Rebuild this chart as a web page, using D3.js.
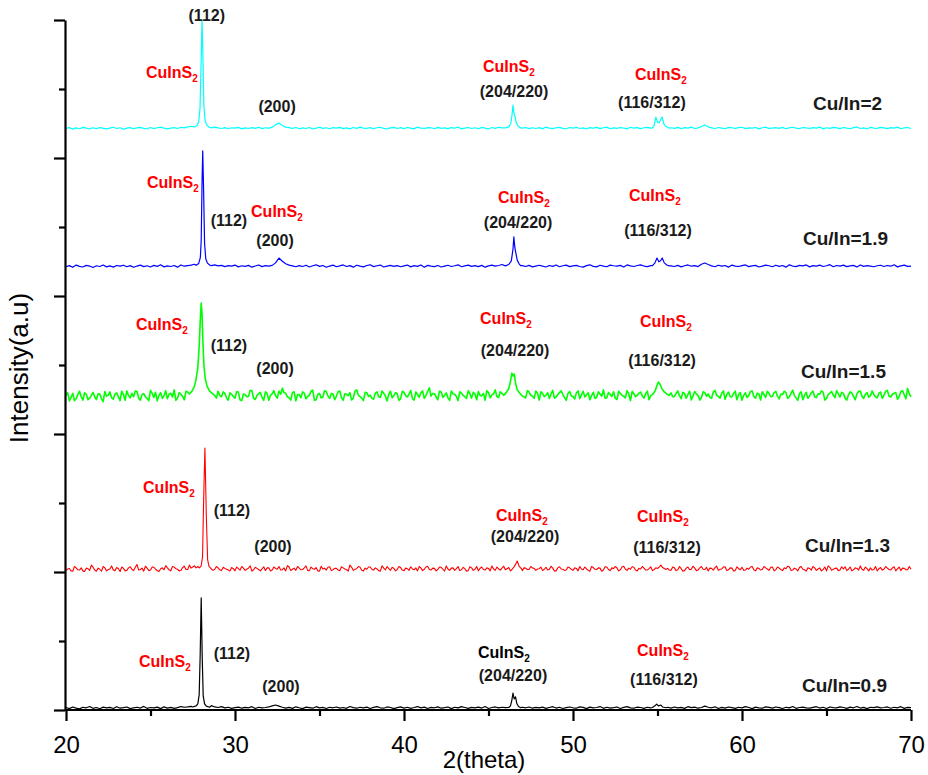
<!DOCTYPE html>
<html><head><meta charset="utf-8">
<script src="https://cdn.jsdelivr.net/npm/d3@7"></script>
<style>body{margin:0;background:#fff}svg{display:block}</style>
</head><body><svg id="c" width="928" height="775"></svg>
<script>
// ---------------- DATA ----------------
const samples = ["Cu/In=0.9", "Cu/In=1.3", "Cu/In=1.5", "Cu/In=1.9", "Cu/In=2"];
const offsets = [0, 1000, 2250, 3200, 4200];           // vertical stacking offsets (a.u.)
const seriesColors = ["#000000", "#ff0000", "#00ff00", "#0000ff", "#00ffff"];
const gridStart = 20, gridStep = 0.2;                  // 2θ sampling of the baseline arrays
const xTicks = [20, 30, 40, 50, 60, 70];
const xMinor = [25, 35, 45, 55, 65];
const yTicks = [0, 1000, 2000, 3000, 4000, 5000];
const yMinor = [500, 1500, 2500, 3500, 4500];

// baseline intensities, 2θ = 20.0, 20.2, ... 70.0 (values inside peak windows are replaced by peak data)
const base09 = [
 18,10,22,14,8,20,16,25,12,18, 9,21,15,19,11,24,13,17,22,10, 16,20,14,26,12,18,15,21,10,23,
 14,19,12,17,25,20,22,26,30,38, 40,40,40,32,22,18,24,15,20,12, 17,21,13,19,16,24,11,20,15,18,
 22,30,36,28,20,14,19,12,23,16, 10,21,17,13,24,15,19,11,20,16, 22,14,18,12,25,17,13,20,15,21,
 11,19,24,16,13,22,18,10,17,23, 14,20,12,18,25,15,21,11,19,16, 23,13,17,22,10,20,15,24,18,12,
 19,16,21,14,25,11,18,22,15,20, 17,24,30,40,30,20,16,22,13,19, 15,21,12,18,24,14,20,11,17,22,
 16,13,23,19,10,21,15,18,25,12, 20,14,17,22,11,19,24,15,13,21, 18,12,20,16,30,40,38,30,20,14,
 22,15,19,12,24,17,21,13,18,28, 20,16,23,11,19,14,22,17,12,20, 15,24,18,10,21,16,13,23,19,14,
 22,17,11,20,15,25,12,18,21,16, 13,19,24,14,20,11,22,17,15,23, 18,12,21,16,25,14,19,10,20,17,
 23,15,18,22,13,20,16,24,12,19, 17];
const base13 = [
 10,25,5,30,14,8,28,12,35,6, 20,40,8,22,15,32,4,26,12,38, 10,55,18,6,28,14,34,9,24,16,
 30,8,36,20,12,42,18,28,45,40, 0,0,0,0,20,30,10,26,14,32, 8,24,40,12,28,6,34,18,22,10,
 30,14,26,40,16,8,36,20,12,28, 18,44,10,24,32,6,22,14,38,16, 26,9,30,18,50,12,24,34,8,20,
 36,14,22,6,28,40,12,26,18,32, 10,24,38,16,8,30,20,42,14,26, 18,34,6,22,28,12,40,16,24,10,
 30,20,8,36,14,26,44,12,22,28, 16,32,20,36,24,10,28,18,30,12, 24,10,34,18,28,8,38,20,14,30,
 12,26,40,16,22,6,32,18,28,14, 36,10,24,30,16,42,12,20,34,8, 22,28,14,38,18,0,0,0,26,12,
 30,16,24,10,36,20,28,14,40,18, 8,26,32,12,22,38,16,28,10,24, 34,14,20,40,8,26,18,30,12,36,
 16,28,10,24,38,14,22,32,20,6, 26,40,12,30,18,8,34,20,28,14, 22,10,36,16,26,44,12,24,30,18,
 8,32,20,28,14,38,22,10,26,16, 20];
// extra samples at 2θ = 20.1, 20.3, ... 69.9 for the noisier scans
const mid13 = [
 22,8,40,16,30,4,24,50,14,28, 6,30,18,44,10,24,36,8,30,20, 34,14,28,42,10,36,20,4,30,46,
 16,40,24,8,32,18,50,36,30,0, 0,0,0,12,40,16,34,20,8,24, 36,14,28,20,44,16,26,8,38,30,
 8,36,20,14,30,46,10,28,40,16, 30,12,36,20,8,42,28,34,10,26, 14,38,22,6,34,20,40,12,28,36,
 20,30,10,44,16,24,34,8,40,14, 28,12,22,30,40,10,36,18,28,8, 36,20,44,12,30,24,10,34,6,38,
 12,40,26,18,30,8,22,36,14,42, 24,8,0,0,0,30,18,40,26,22, 36,20,14,42,8,30,22,12,36,20,
 30,8,22,36,12,40,20,30,6,38, 18,30,40,8,36,20,28,38,14,26, 40,14,24,10,30,0,0,0,14,36,
 10,40,6,28,16,42,10,30,20,34, 28,14,42,20,36,10,30,8,38,16, 12,28,36,16,30,14,40,22,34,8,
 36,18,30,42,12,28,8,40,16,30, 14,30,22,8,36,44,12,26,10,38, 38,20,8,30,14,20,36,8,14,40,
 24,14,40,18,30,8,36,28,16,40];
const base15 = [
 30,-10,45,5,60,-5,38,10,52,0, 40,-15,25,55,2,48,-8,35,62,12, 20,58,-5,42,8,66,15,-10,50,28,
 5,45,70,10,38,-2,55,30,72,90, 0,0,0,0,0,60,20,45,-5,38, 10,52,-8,35,22,64,0,42,15,56,
 -5,40,28,60,82,45,12,50,-10,36, 55,5,30,68,-2,44,18,58,8,40, 25,62,-6,38,50,10,70,20,-8,48,
 32,2,56,15,45,-10,60,28,40,6, 52,18,66,-4,36,48,8,58,24,42, -2,54,30,12,62,38,-8,46,20,64,
 10,40,58,26,-5,50,34,70,14,45, 0,0,0,0,0,48,12,55,25,62, -4,44,30,8,66,18,50,36,-6,58,
 22,48,6,60,34,-2,52,16,40,70, 12,38,56,0,46,24,64,-8,42,30, 54,10,60,28,0,0,0,0,0,48,
 20,62,6,44,36,-4,58,30,14,50, 40,8,66,24,46,2,54,18,60,34, -6,48,28,62,10,40,56,16,44,22,
 58,4,36,50,20,68,12,42,-2,52, 26,60,14,38,54,6,46,30,64,18, 44,-4,56,22,40,62,8,50,28,36,
 12,54,32,66,18,46,2,58,34,80, 20];
const mid15 = [
 50,15,-8,35,20,48,-2,30,18,42, 5,58,30,12,40,20,60,-5,28,45, 62,10,36,20,-8,44,52,30,8,64,
 40,18,-6,50,22,60,8,40,0,0, 0,0,0,0,10,28,55,12,48,22, 58,-4,40,20,66,8,30,52,-6,44,
 30,64,10,38,50,20,-4,56,34,12, 46,22,60,-6,36,12,64,26,44,-2, 56,14,42,28,-4,60,30,10,52,22,
 8,46,20,62,26,38,12,50,-6,58, 28,40,6,54,16,62,30,85,44,20, 60,16,48,-6,40,22,56,30,8,42,
 52,-2,30,44,64,12,40,20,56,30, 0,0,0,0,0,20,64,30,8,46, 56,20,50,40,10,36,62,14,44,26,
 4,62,34,18,48,28,8,56,24,10, 50,22,8,60,30,12,40,58,20,46, 26,44,-2,50,0,0,0,0,0,20,
 44,28,52,10,60,24,40,-4,56,24, 16,54,30,10,62,36,20,44,-2,50, 30,14,58,22,46,-4,36,60,20,50,
 24,40,60,8,44,28,-6,56,30,8, 50,20,42,62,-4,36,58,14,40,52, 10,34,46,-2,60,24,38,16,62,20,
 46,8,60,24,38,50,20,64,6,40];
const base19 = [
 12,20,8,24,15,10,22,17,6,19, 14,25,11,18,9,21,16,23,12,20, 8,17,24,13,19,10,22,15,26,11,
 18,14,21,9,25,16,20,24,30,0, 0,0,0,0,26,18,22,13,20,16, 24,11,19,15,22,9,17,25,13,20,
 16,22,40,75,52,34,24,18,12,20, 14,23,10,19,26,15,21,8,17,24, 12,18,25,14,20,9,23,16,11,21,
 26,13,19,24,10,17,22,15,20,12, 18,24,11,20,15,25,9,22,16,13, 21,10,17,23,14,19,26,12,18,24,
 15,20,13,22,9,18,24,16,21,28, 0,0,0,0,0,20,14,22,11,17, 23,16,10,21,15,25,12,19,24,13,
 18,22,14,9,20,26,15,11,23,17, 12,24,19,16,22,10,25,18,14,21, 26,17,13,20,0,0,0,0,0,18,
 14,22,11,19,25,16,20,13,30,39, 28,18,12,23,16,21,9,24,17,14, 20,25,13,18,22,10,16,24,19,12,
 23,15,21,9,26,17,13,22,18,25, 11,20,16,24,14,19,27,12,21,16, 24,13,18,22,10,25,15,20,17,12,
 19,23,14,21,16,26,11,18,24,15, 17];
const base20 = [
 14,20,9,18,12,22,16,10,19,13, 21,15,11,17,23,14,19,8,16,20, 12,18,22,15,10,21,13,19,24,16,
 11,17,20,14,23,18,25,30,0,0, 0,0,0,0,24,18,14,20,12,19, 16,22,11,18,14,20,15,23,13,19,
 17,22,42,54,36,24,20,15,21,12, 18,14,21,10,17,23,15,19,12,20, 16,22,13,18,11,21,15,24,17,14,
 20,12,19,23,15,10,18,22,14,20, 13,21,16,11,24,17,14,20,19,12, 22,15,18,13,20,16,25,11,17,21,
 14,19,12,22,17,10,21,15,23,18, 0,0,0,0,0,16,21,13,19,14, 20,11,24,16,13,19,22,15,12,21,
 17,23,14,18,10,20,16,22,13,19, 24,12,18,15,21,17,11,23,16,20, 13,19,22,16,0,0,0,0,0,19,
 15,22,12,20,17,24,14,18,28,39, 26,18,14,21,16,12,22,19,15,20, 23,13,18,16,21,11,19,24,14,17,
 20,15,22,12,18,23,16,13,21,18, 14,20,17,24,11,19,15,22,18,13, 21,16,12,20,25,14,18,10,23,17,
 15,22,18,13,20,16,24,12,19,21, 14];

// reflection profiles [2θ, intensity] — (112), (204/220), (116/312)
const peaks09 = [
 [[27.5,22],[27.7,30],[27.8,45],[27.88,110],[27.94,400],[28.0,812],[28.06,380],[28.12,100],[28.2,45],[28.3,28],[28.5,20]],
 [[46.2,18],[46.3,30],[46.38,70],[46.45,123],[46.52,80],[46.6,95],[46.68,45],[46.78,25],[46.9,17]],
 [[54.7,18],[54.85,30],[54.95,43],[55.05,30],[55.2,36],[55.3,22],[55.5,16]]];
const peaks13 = [
 [[27.9,30],[28.0,45],[28.08,110],[28.14,500],[28.22,899],[28.3,420],[28.38,90],[28.46,40],[28.6,22]],
 [[46.4,20],[46.5,35],[46.6,55],[46.7,80],[46.8,45],[46.95,22]],
 [[55.0,25],[55.1,35],[55.2,51],[55.3,32],[55.5,18]]];
const peaks15 = [
 [[27.3,40],[27.45,60],[27.6,95],[27.7,150],[27.8,230],[27.88,380],[27.94,560],[28.0,699],[28.05,620],[28.1,420],[28.16,250],[28.24,150],[28.35,95],[28.5,60],[28.65,45],[28.8,30]],
 [[45.9,30],[46.05,50],[46.2,80],[46.3,130],[46.38,192],[46.45,170],[46.52,185],[46.6,120],[46.7,70],[46.85,45],[47.0,25]],
 [[54.7,35],[54.85,60],[54.95,95],[55.05,127],[55.15,110],[55.25,80],[55.4,55],[55.55,40],[55.7,30]]];
const peaks19 = [
 [[27.7,22],[27.85,35],[27.95,80],[28.0,200],[28.05,620],[28.09,851],[28.14,580],[28.2,180],[28.27,70],[28.37,38],[28.5,25],[28.6,20]],
 [[46.0,18],[46.2,28],[46.35,55],[46.45,140],[46.5,228],[46.56,150],[46.62,110],[46.7,60],[46.8,35],[46.9,20]],
 [[54.7,20],[54.85,40],[54.97,75],[55.08,48],[55.18,55],[55.28,75],[55.4,40],[55.55,25],[55.7,18]]];
const peaks20 = [
 [[27.6,25],[27.75,35],[27.85,60],[27.93,160],[28.0,520],[28.05,800],[28.1,540],[28.16,170],[28.24,65],[28.34,38],[28.45,25],[28.6,18]],
 [[46.0,18],[46.2,25],[46.32,50],[46.4,120],[46.45,184],[46.5,130],[46.58,95],[46.65,55],[46.75,32],[46.9,18]],
 [[54.7,18],[54.8,35],[54.9,97],[55.0,60],[55.1,55],[55.2,80],[55.27,97],[55.38,45],[55.5,28],[55.7,16]]];

const baselines = [base09, base13, base15, base19, base20];
const midlines = [null, mid13, mid15, null, null];
const peakSets = [peaks09, peaks13, peaks15, peaks19, peaks20];
const lineWidths = [1.2, 1.1, 1.6, 1.2, 1.2];

// annotations: [text, 2θ, intensity, kind]
const labels = [
 ["CuInS", 24.73, 4580, "phase"], ["(112)", 28.33, 4993, "hkl"], ["(200)", 32.49, 4333, "hkl"],
 ["CuInS", 44.67, 4623, "phase"], ["(204/220)", 46.51, 4442, "hkl"],
 ["CuInS", 53.67, 4565, "phase"], ["(116/312)", 54.67, 4362, "hkl"], ["Cu/In=2", 64.20, 4348, "sample"],

 ["CuInS", 24.79, 3783, "phase"], ["(112)", 29.64, 3507, "hkl"], ["CuInS", 30.95, 3572, "phase"], ["(200)", 32.37, 3362, "hkl"],
 ["CuInS", 45.56, 3674, "phase"], ["(204/220)", 46.75, 3493, "hkl"],
 ["CuInS", 53.31, 3688, "phase"], ["(116/312)", 55.03, 3435, "hkl"], ["Cu/In=1.9", 63.61, 3370, "sample"],

 ["CuInS", 24.14, 2754, "phase"], ["(112)", 29.64, 2601, "hkl"], ["(200)", 32.37, 2435, "hkl"],
 ["CuInS", 44.50, 2797, "phase"], ["(204/220)", 46.57, 2565, "hkl"],
 ["CuInS", 53.96, 2775, "phase"], ["(116/312)", 55.27, 2493, "hkl"], ["Cu/In=1.5", 63.49, 2406, "sample"],

 ["CuInS", 24.56, 1572, "phase"], ["(112)", 29.82, 1406, "hkl"], ["(200)", 32.25, 1145, "hkl"],
 ["CuInS", 45.44, 1370, "phase"], ["(204/220)", 47.16, 1217, "hkl"],
 ["CuInS", 53.79, 1362, "phase"], ["(116/312)", 55.56, 1138, "hkl"], ["Cu/In=1.3", 63.73, 1145, "sample"],

 ["CuInS", 24.32, 312, "phase"], ["(112)", 29.82, 370, "hkl"], ["(200)", 32.72, 130, "hkl"],
 ["CuInS", 44.38, 377, "phaseBlack"], ["(204/220)", 46.45, 210, "hkl"],
 ["CuInS", 53.79, 391, "phase"], ["(116/312)", 55.38, 181, "hkl"], ["Cu/In=0.9", 63.55, 130, "sample"]
];

// ---------------- DRAW ----------------
const svg = d3.select("#c");
const FONT = "'Liberation Sans', Arial, Helvetica, sans-serif";
const x = d3.scaleLinear().domain([20, 70]).range([66, 911]);
const y = d3.scaleLinear().domain([0, 5000]).range([710, 20]);

// series
const line = d3.line().x(d => x(d[0])).y(d => y(d[1]));
baselines.forEach((base, i) => {
  const windows = peakSets[i].map(p => [p[0][0], p[p.length - 1][0]]);
  const inside = t => windows.some(w => t >= w[0] - 1e-9 && t <= w[1] + 1e-9);
  let pts = base.map((v, j) => [gridStart + j * gridStep, v]);
  if (midlines[i]) pts = pts.concat(midlines[i].map((v, j) => [gridStart + gridStep / 2 + j * gridStep, v]));
  pts = pts.filter(p => !inside(p[0]));
  peakSets[i].forEach(p => p.forEach(q => pts.push(q)));
  pts.sort((a, b) => a[0] - b[0]);
  const data = pts.map(p => [p[0], p[1] + offsets[i]]);
  svg.append("path").datum(data)
    .attr("fill", "none").attr("stroke", seriesColors[i])
    .attr("stroke-width", lineWidths[i]).attr("stroke-linejoin", "round")
    .attr("d", line);
});

// axes
function styleAxis(g) {
  g.selectAll("path.domain").attr("stroke", "#000").attr("stroke-width", 2.2);
  g.selectAll(".tick line").attr("stroke", "#000").attr("stroke-width", 2.2);
}
const gx = svg.append("g").attr("transform", "translate(0,710)")
  .call(d3.axisBottom(x).tickValues(xTicks).tickSize(11).tickSizeOuter(0).tickPadding(15));
gx.select("path.domain").attr("d", "M65,0H911");
gx.selectAll(".tick text").attr("font-family", FONT).attr("font-size", 24).attr("fill", "#000");
styleAxis(gx);
const gxm = svg.append("g").attr("transform", "translate(0,710)")
  .call(d3.axisBottom(x).tickValues(xMinor).tickSize(6).tickSizeOuter(0).tickFormat(""));
gxm.select("path.domain").remove();
styleAxis(gxm);

const gy = svg.append("g").attr("transform", "translate(65,0)")
  .call(d3.axisLeft(y).tickValues(yTicks).tickSize(11).tickSizeOuter(0).tickFormat(""));
styleAxis(gy);
const gym = svg.append("g").attr("transform", "translate(65,0)")
  .call(d3.axisLeft(y).tickValues(yMinor).tickSize(6).tickSizeOuter(0).tickFormat(""));
gym.select("path.domain").remove();
styleAxis(gym);

// axis titles
svg.append("text").attr("x", 484).attr("y", 768).attr("text-anchor", "middle")
  .attr("font-family", FONT).attr("font-size", 24).text("2(theta)");
svg.append("text").attr("transform", "translate(28,368) rotate(-90)").attr("text-anchor", "middle")
  .attr("font-family", FONT).attr("font-size", 26).text("Intensity(a.u)");

// annotations
labels.forEach(([txt, t, v, kind]) => {
  const tx = svg.append("text").attr("x", x(t)).attr("y", y(v))
    .attr("font-family", FONT).attr("font-weight", "bold");
  if (kind === "phase" || kind === "phaseBlack") {
    tx.attr("font-size", 16).attr("fill", kind === "phase" ? "#ff0000" : "#000");
    tx.append("tspan").text(txt);
    tx.append("tspan").attr("font-size", 10).attr("dy", 4).text("2");
  } else if (kind === "hkl") {
    tx.attr("font-size", 16).attr("text-anchor", "middle").attr("fill", "#1a1a1a").text(txt);
  } else {
    tx.attr("font-size", 19).attr("fill", "#1a1a1a").text(txt);
  }
});
</script>
</body></html>
